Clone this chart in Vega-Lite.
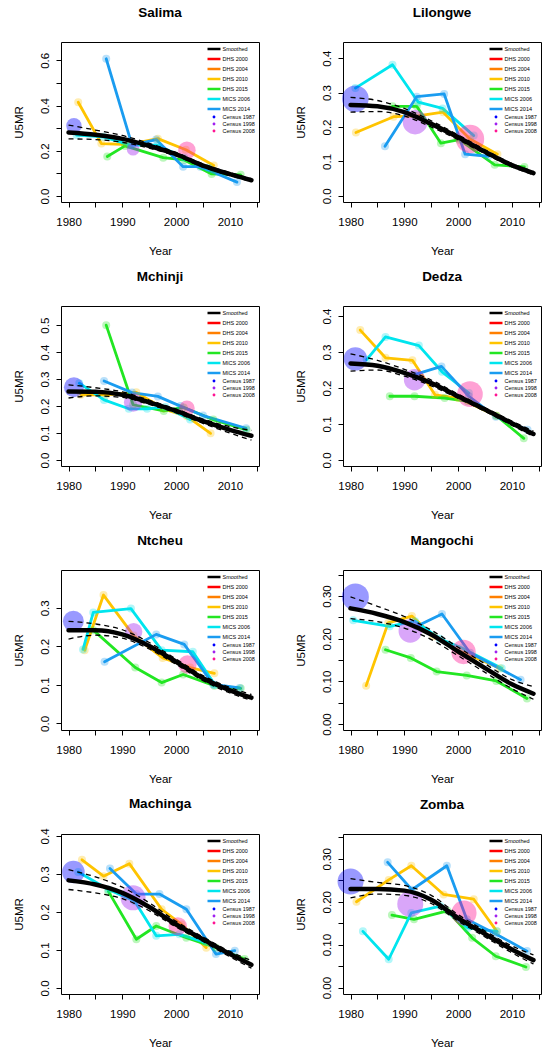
{
  "$schema": "https://vega.github.io/schema/vega-lite/v6.json",
  "background": "white",
  "padding": {"left": 12, "top": 5, "right": 5, "bottom": 5},
  "bounds": "flush",
  "columns": 2,
  "spacing": {"row": 104, "column": 84},
  "resolve": {"scale": {"color": "independent", "fill": "independent", "stroke": "independent", "size": "independent"}, "legend": {"color": "independent", "fill": "independent"}},
  "data": {"values": [
    {"district":"Salima","kind":"survey","series":"DHS 2010","year":1981.8,"u5mr":0.415},
    {"district":"Salima","kind":"survey","series":"DHS 2010","year":1986.1,"u5mr":0.232},
    {"district":"Salima","kind":"survey","series":"DHS 2010","year":1991.0,"u5mr":0.228},
    {"district":"Salima","kind":"survey","series":"DHS 2010","year":1996.6,"u5mr":0.254},
    {"district":"Salima","kind":"survey","series":"DHS 2010","year":2001.8,"u5mr":0.205},
    {"district":"Salima","kind":"survey","series":"DHS 2010","year":2007.0,"u5mr":0.135},
    {"district":"Salima","kind":"survey","series":"DHS 2015","year":1987.2,"u5mr":0.175},
    {"district":"Salima","kind":"survey","series":"DHS 2015","year":1990.5,"u5mr":0.222},
    {"district":"Salima","kind":"survey","series":"DHS 2015","year":1997.6,"u5mr":0.170},
    {"district":"Salima","kind":"survey","series":"DHS 2015","year":2001.5,"u5mr":0.160},
    {"district":"Salima","kind":"survey","series":"DHS 2015","year":2006.6,"u5mr":0.098},
    {"district":"Salima","kind":"survey","series":"DHS 2015","year":2012.0,"u5mr":0.094},
    {"district":"Salima","kind":"survey","series":"MICS 2006","year":1981.5,"u5mr":0.270},
    {"district":"Salima","kind":"survey","series":"MICS 2006","year":1986.5,"u5mr":0.262},
    {"district":"Salima","kind":"survey","series":"MICS 2006","year":1991.5,"u5mr":0.225},
    {"district":"Salima","kind":"survey","series":"MICS 2006","year":1996.5,"u5mr":0.225},
    {"district":"Salima","kind":"survey","series":"MICS 2006","year":2001.5,"u5mr":0.170},
    {"district":"Salima","kind":"survey","series":"MICS 2006","year":2006.0,"u5mr":0.125},
    {"district":"Salima","kind":"survey","series":"MICS 2014","year":1987.0,"u5mr":0.607},
    {"district":"Salima","kind":"survey","series":"MICS 2014","year":1991.8,"u5mr":0.225},
    {"district":"Salima","kind":"survey","series":"MICS 2014","year":1996.3,"u5mr":0.250},
    {"district":"Salima","kind":"survey","series":"MICS 2014","year":2001.3,"u5mr":0.130},
    {"district":"Salima","kind":"survey","series":"MICS 2014","year":2004.5,"u5mr":0.130},
    {"district":"Salima","kind":"survey","series":"MICS 2014","year":2011.3,"u5mr":0.062},
    {"district":"Salima","kind":"census","series":"Census 1987","year":1981.0,"u5mr":0.311,"weight":59},
    {"district":"Salima","kind":"census","series":"Census 1998","year":1992.0,"u5mr":0.207,"weight":40},
    {"district":"Salima","kind":"census","series":"Census 2008","year":2002.0,"u5mr":0.203,"weight":77},
    {"district":"Salima","kind":"est","series":"Smoothed","year":1980,"u5mr":0.281},
    {"district":"Salima","kind":"est","series":"Smoothed","year":1985,"u5mr":0.271},
    {"district":"Salima","kind":"est","series":"Smoothed","year":1990,"u5mr":0.253},
    {"district":"Salima","kind":"est","series":"Smoothed","year":1995,"u5mr":0.222},
    {"district":"Salima","kind":"est","series":"Smoothed","year":2000,"u5mr":0.185},
    {"district":"Salima","kind":"est","series":"Smoothed","year":2005,"u5mr":0.135},
    {"district":"Salima","kind":"est","series":"Smoothed","year":2010,"u5mr":0.097},
    {"district":"Salima","kind":"est","series":"Smoothed","year":2014,"u5mr":0.070},
    {"district":"Salima","kind":"lower","series":"Smoothed","year":1980,"u5mr":0.253},
    {"district":"Salima","kind":"lower","series":"Smoothed","year":1985,"u5mr":0.250},
    {"district":"Salima","kind":"lower","series":"Smoothed","year":1990,"u5mr":0.238},
    {"district":"Salima","kind":"lower","series":"Smoothed","year":1995,"u5mr":0.212},
    {"district":"Salima","kind":"lower","series":"Smoothed","year":2000,"u5mr":0.177},
    {"district":"Salima","kind":"lower","series":"Smoothed","year":2005,"u5mr":0.128},
    {"district":"Salima","kind":"lower","series":"Smoothed","year":2010,"u5mr":0.091},
    {"district":"Salima","kind":"lower","series":"Smoothed","year":2014,"u5mr":0.064},
    {"district":"Salima","kind":"upper","series":"Smoothed","year":1980,"u5mr":0.314},
    {"district":"Salima","kind":"upper","series":"Smoothed","year":1985,"u5mr":0.292},
    {"district":"Salima","kind":"upper","series":"Smoothed","year":1990,"u5mr":0.268},
    {"district":"Salima","kind":"upper","series":"Smoothed","year":1995,"u5mr":0.233},
    {"district":"Salima","kind":"upper","series":"Smoothed","year":2000,"u5mr":0.193},
    {"district":"Salima","kind":"upper","series":"Smoothed","year":2005,"u5mr":0.142},
    {"district":"Salima","kind":"upper","series":"Smoothed","year":2010,"u5mr":0.104},
    {"district":"Salima","kind":"upper","series":"Smoothed","year":2014,"u5mr":0.077},

    {"district":"Lilongwe","kind":"survey","series":"DHS 2010","year":1981.0,"u5mr":0.184},
    {"district":"Lilongwe","kind":"survey","series":"DHS 2010","year":1988.0,"u5mr":0.230},
    {"district":"Lilongwe","kind":"survey","series":"DHS 2010","year":1992.5,"u5mr":0.232},
    {"district":"Lilongwe","kind":"survey","series":"DHS 2010","year":1997.2,"u5mr":0.243},
    {"district":"Lilongwe","kind":"survey","series":"DHS 2010","year":2002.2,"u5mr":0.165},
    {"district":"Lilongwe","kind":"survey","series":"DHS 2010","year":2007.3,"u5mr":0.121},
    {"district":"Lilongwe","kind":"survey","series":"DHS 2015","year":1987.8,"u5mr":0.260},
    {"district":"Lilongwe","kind":"survey","series":"DHS 2015","year":1992.3,"u5mr":0.260},
    {"district":"Lilongwe","kind":"survey","series":"DHS 2015","year":1996.8,"u5mr":0.153},
    {"district":"Lilongwe","kind":"survey","series":"DHS 2015","year":2000.2,"u5mr":0.163},
    {"district":"Lilongwe","kind":"survey","series":"DHS 2015","year":2006.8,"u5mr":0.090},
    {"district":"Lilongwe","kind":"survey","series":"DHS 2015","year":2012.3,"u5mr":0.084},
    {"district":"Lilongwe","kind":"survey","series":"MICS 2006","year":1980.9,"u5mr":0.313},
    {"district":"Lilongwe","kind":"survey","series":"MICS 2006","year":1987.8,"u5mr":0.381},
    {"district":"Lilongwe","kind":"survey","series":"MICS 2006","year":1992.6,"u5mr":0.272},
    {"district":"Lilongwe","kind":"survey","series":"MICS 2006","year":1997.1,"u5mr":0.254},
    {"district":"Lilongwe","kind":"survey","series":"MICS 2006","year":2002.9,"u5mr":0.175},
    {"district":"Lilongwe","kind":"survey","series":"MICS 2014","year":1986.4,"u5mr":0.144},
    {"district":"Lilongwe","kind":"survey","series":"MICS 2014","year":1992.3,"u5mr":0.288},
    {"district":"Lilongwe","kind":"survey","series":"MICS 2014","year":1997.4,"u5mr":0.296},
    {"district":"Lilongwe","kind":"survey","series":"MICS 2014","year":2001.3,"u5mr":0.121},
    {"district":"Lilongwe","kind":"survey","series":"MICS 2014","year":2005.6,"u5mr":0.115},
    {"district":"Lilongwe","kind":"census","series":"Census 1987","year":1980.9,"u5mr":0.282,"weight":177},
    {"district":"Lilongwe","kind":"census","series":"Census 1998","year":1992.0,"u5mr":0.214,"weight":151},
    {"district":"Lilongwe","kind":"census","series":"Census 2008","year":2002.2,"u5mr":0.165,"weight":202},
    {"district":"Lilongwe","kind":"est","series":"Smoothed","year":1980,"u5mr":0.264},
    {"district":"Lilongwe","kind":"est","series":"Smoothed","year":1985,"u5mr":0.260},
    {"district":"Lilongwe","kind":"est","series":"Smoothed","year":1990,"u5mr":0.243},
    {"district":"Lilongwe","kind":"est","series":"Smoothed","year":1995,"u5mr":0.209},
    {"district":"Lilongwe","kind":"est","series":"Smoothed","year":2000,"u5mr":0.170},
    {"district":"Lilongwe","kind":"est","series":"Smoothed","year":2005,"u5mr":0.128},
    {"district":"Lilongwe","kind":"est","series":"Smoothed","year":2010,"u5mr":0.089},
    {"district":"Lilongwe","kind":"est","series":"Smoothed","year":2014,"u5mr":0.066},
    {"district":"Lilongwe","kind":"lower","series":"Smoothed","year":1980,"u5mr":0.243},
    {"district":"Lilongwe","kind":"lower","series":"Smoothed","year":1985,"u5mr":0.245},
    {"district":"Lilongwe","kind":"lower","series":"Smoothed","year":1990,"u5mr":0.232},
    {"district":"Lilongwe","kind":"lower","series":"Smoothed","year":1995,"u5mr":0.200},
    {"district":"Lilongwe","kind":"lower","series":"Smoothed","year":2000,"u5mr":0.163},
    {"district":"Lilongwe","kind":"lower","series":"Smoothed","year":2005,"u5mr":0.122},
    {"district":"Lilongwe","kind":"lower","series":"Smoothed","year":2010,"u5mr":0.084},
    {"district":"Lilongwe","kind":"lower","series":"Smoothed","year":2014,"u5mr":0.061},
    {"district":"Lilongwe","kind":"upper","series":"Smoothed","year":1980,"u5mr":0.286},
    {"district":"Lilongwe","kind":"upper","series":"Smoothed","year":1985,"u5mr":0.277},
    {"district":"Lilongwe","kind":"upper","series":"Smoothed","year":1990,"u5mr":0.254},
    {"district":"Lilongwe","kind":"upper","series":"Smoothed","year":1995,"u5mr":0.218},
    {"district":"Lilongwe","kind":"upper","series":"Smoothed","year":2000,"u5mr":0.177},
    {"district":"Lilongwe","kind":"upper","series":"Smoothed","year":2005,"u5mr":0.134},
    {"district":"Lilongwe","kind":"upper","series":"Smoothed","year":2010,"u5mr":0.094},
    {"district":"Lilongwe","kind":"upper","series":"Smoothed","year":2014,"u5mr":0.071},

    {"district":"Mchinji","kind":"survey","series":"DHS 2010","year":1982.3,"u5mr":0.242},
    {"district":"Mchinji","kind":"survey","series":"DHS 2010","year":1987.0,"u5mr":0.242},
    {"district":"Mchinji","kind":"survey","series":"DHS 2010","year":1992.6,"u5mr":0.251},
    {"district":"Mchinji","kind":"survey","series":"DHS 2010","year":1997.7,"u5mr":0.190},
    {"district":"Mchinji","kind":"survey","series":"DHS 2010","year":2002.0,"u5mr":0.162},
    {"district":"Mchinji","kind":"survey","series":"DHS 2010","year":2006.4,"u5mr":0.099},
    {"district":"Mchinji","kind":"survey","series":"DHS 2015","year":1987.0,"u5mr":0.500},
    {"district":"Mchinji","kind":"survey","series":"DHS 2015","year":1992.0,"u5mr":0.205},
    {"district":"Mchinji","kind":"survey","series":"DHS 2015","year":1997.7,"u5mr":0.182},
    {"district":"Mchinji","kind":"survey","series":"DHS 2015","year":2001.4,"u5mr":0.195},
    {"district":"Mchinji","kind":"survey","series":"DHS 2015","year":2006.9,"u5mr":0.150},
    {"district":"Mchinji","kind":"survey","series":"DHS 2015","year":2013.1,"u5mr":0.112},
    {"district":"Mchinji","kind":"survey","series":"MICS 2006","year":1982.0,"u5mr":0.285},
    {"district":"Mchinji","kind":"survey","series":"MICS 2006","year":1986.6,"u5mr":0.223},
    {"district":"Mchinji","kind":"survey","series":"MICS 2006","year":1991.2,"u5mr":0.190},
    {"district":"Mchinji","kind":"survey","series":"MICS 2006","year":1994.6,"u5mr":0.190},
    {"district":"Mchinji","kind":"survey","series":"MICS 2006","year":1998.0,"u5mr":0.197},
    {"district":"Mchinji","kind":"survey","series":"MICS 2006","year":2002.6,"u5mr":0.150},
    {"district":"Mchinji","kind":"survey","series":"MICS 2014","year":1986.6,"u5mr":0.293},
    {"district":"Mchinji","kind":"survey","series":"MICS 2014","year":1991.8,"u5mr":0.250},
    {"district":"Mchinji","kind":"survey","series":"MICS 2014","year":1996.6,"u5mr":0.236},
    {"district":"Mchinji","kind":"survey","series":"MICS 2014","year":2000.8,"u5mr":0.200},
    {"district":"Mchinji","kind":"survey","series":"MICS 2014","year":2005.0,"u5mr":0.165},
    {"district":"Mchinji","kind":"survey","series":"MICS 2014","year":2013.0,"u5mr":0.118},
    {"district":"Mchinji","kind":"census","series":"Census 1987","year":1981.0,"u5mr":0.270,"weight":100},
    {"district":"Mchinji","kind":"census","series":"Census 1998","year":1992.0,"u5mr":0.213,"weight":85},
    {"district":"Mchinji","kind":"census","series":"Census 2008","year":2002.0,"u5mr":0.192,"weight":61},
    {"district":"Mchinji","kind":"est","series":"Smoothed","year":1980,"u5mr":0.254},
    {"district":"Mchinji","kind":"est","series":"Smoothed","year":1985,"u5mr":0.253},
    {"district":"Mchinji","kind":"est","series":"Smoothed","year":1990,"u5mr":0.242},
    {"district":"Mchinji","kind":"est","series":"Smoothed","year":1995,"u5mr":0.214},
    {"district":"Mchinji","kind":"est","series":"Smoothed","year":2000,"u5mr":0.182},
    {"district":"Mchinji","kind":"est","series":"Smoothed","year":2005,"u5mr":0.144},
    {"district":"Mchinji","kind":"est","series":"Smoothed","year":2010,"u5mr":0.112},
    {"district":"Mchinji","kind":"est","series":"Smoothed","year":2014,"u5mr":0.090},
    {"district":"Mchinji","kind":"lower","series":"Smoothed","year":1980,"u5mr":0.230},
    {"district":"Mchinji","kind":"lower","series":"Smoothed","year":1985,"u5mr":0.238},
    {"district":"Mchinji","kind":"lower","series":"Smoothed","year":1990,"u5mr":0.232},
    {"district":"Mchinji","kind":"lower","series":"Smoothed","year":1995,"u5mr":0.206},
    {"district":"Mchinji","kind":"lower","series":"Smoothed","year":2000,"u5mr":0.175},
    {"district":"Mchinji","kind":"lower","series":"Smoothed","year":2005,"u5mr":0.136},
    {"district":"Mchinji","kind":"lower","series":"Smoothed","year":2010,"u5mr":0.100},
    {"district":"Mchinji","kind":"lower","series":"Smoothed","year":2014,"u5mr":0.074},
    {"district":"Mchinji","kind":"upper","series":"Smoothed","year":1980,"u5mr":0.279},
    {"district":"Mchinji","kind":"upper","series":"Smoothed","year":1985,"u5mr":0.268},
    {"district":"Mchinji","kind":"upper","series":"Smoothed","year":1990,"u5mr":0.253},
    {"district":"Mchinji","kind":"upper","series":"Smoothed","year":1995,"u5mr":0.222},
    {"district":"Mchinji","kind":"upper","series":"Smoothed","year":2000,"u5mr":0.189},
    {"district":"Mchinji","kind":"upper","series":"Smoothed","year":2005,"u5mr":0.152},
    {"district":"Mchinji","kind":"upper","series":"Smoothed","year":2010,"u5mr":0.124},
    {"district":"Mchinji","kind":"upper","series":"Smoothed","year":2014,"u5mr":0.110},

    {"district":"Dedza","kind":"survey","series":"DHS 2010","year":1981.8,"u5mr":0.361},
    {"district":"Dedza","kind":"survey","series":"DHS 2010","year":1986.5,"u5mr":0.284},
    {"district":"Dedza","kind":"survey","series":"DHS 2010","year":1991.5,"u5mr":0.277},
    {"district":"Dedza","kind":"survey","series":"DHS 2010","year":1995.7,"u5mr":0.181},
    {"district":"Dedza","kind":"survey","series":"DHS 2010","year":2000.0,"u5mr":0.172},
    {"district":"Dedza","kind":"survey","series":"DHS 2010","year":2007.1,"u5mr":0.123},
    {"district":"Dedza","kind":"survey","series":"DHS 2015","year":1987.3,"u5mr":0.177},
    {"district":"Dedza","kind":"survey","series":"DHS 2015","year":1991.9,"u5mr":0.177},
    {"district":"Dedza","kind":"survey","series":"DHS 2015","year":1997.5,"u5mr":0.172},
    {"district":"Dedza","kind":"survey","series":"DHS 2015","year":2001.8,"u5mr":0.163},
    {"district":"Dedza","kind":"survey","series":"DHS 2015","year":2007.1,"u5mr":0.123},
    {"district":"Dedza","kind":"survey","series":"DHS 2015","year":2012.2,"u5mr":0.060},
    {"district":"Dedza","kind":"survey","series":"MICS 2006","year":1983.0,"u5mr":0.279},
    {"district":"Dedza","kind":"survey","series":"MICS 2006","year":1986.5,"u5mr":0.342},
    {"district":"Dedza","kind":"survey","series":"MICS 2006","year":1992.7,"u5mr":0.318},
    {"district":"Dedza","kind":"survey","series":"MICS 2006","year":1997.0,"u5mr":0.245},
    {"district":"Dedza","kind":"survey","series":"MICS 2006","year":2002.0,"u5mr":0.186},
    {"district":"Dedza","kind":"survey","series":"MICS 2014","year":1991.9,"u5mr":0.237},
    {"district":"Dedza","kind":"survey","series":"MICS 2014","year":1996.9,"u5mr":0.260},
    {"district":"Dedza","kind":"survey","series":"MICS 2014","year":2002.0,"u5mr":0.177},
    {"district":"Dedza","kind":"survey","series":"MICS 2014","year":2007.0,"u5mr":0.120},
    {"district":"Dedza","kind":"survey","series":"MICS 2014","year":2012.9,"u5mr":0.084},
    {"district":"Dedza","kind":"census","series":"Census 1987","year":1980.9,"u5mr":0.281,"weight":137},
    {"district":"Dedza","kind":"census","series":"Census 1998","year":1991.9,"u5mr":0.223,"weight":114},
    {"district":"Dedza","kind":"census","series":"Census 2008","year":2002.2,"u5mr":0.183,"weight":164},
    {"district":"Dedza","kind":"est","series":"Smoothed","year":1980,"u5mr":0.268},
    {"district":"Dedza","kind":"est","series":"Smoothed","year":1985,"u5mr":0.262},
    {"district":"Dedza","kind":"est","series":"Smoothed","year":1990,"u5mr":0.242},
    {"district":"Dedza","kind":"est","series":"Smoothed","year":1995,"u5mr":0.214},
    {"district":"Dedza","kind":"est","series":"Smoothed","year":2000,"u5mr":0.177},
    {"district":"Dedza","kind":"est","series":"Smoothed","year":2005,"u5mr":0.140},
    {"district":"Dedza","kind":"est","series":"Smoothed","year":2010,"u5mr":0.102},
    {"district":"Dedza","kind":"est","series":"Smoothed","year":2014,"u5mr":0.072},
    {"district":"Dedza","kind":"lower","series":"Smoothed","year":1980,"u5mr":0.247},
    {"district":"Dedza","kind":"lower","series":"Smoothed","year":1985,"u5mr":0.250},
    {"district":"Dedza","kind":"lower","series":"Smoothed","year":1990,"u5mr":0.233},
    {"district":"Dedza","kind":"lower","series":"Smoothed","year":1995,"u5mr":0.206},
    {"district":"Dedza","kind":"lower","series":"Smoothed","year":2000,"u5mr":0.171},
    {"district":"Dedza","kind":"lower","series":"Smoothed","year":2005,"u5mr":0.135},
    {"district":"Dedza","kind":"lower","series":"Smoothed","year":2010,"u5mr":0.096},
    {"district":"Dedza","kind":"lower","series":"Smoothed","year":2014,"u5mr":0.065},
    {"district":"Dedza","kind":"upper","series":"Smoothed","year":1980,"u5mr":0.295},
    {"district":"Dedza","kind":"upper","series":"Smoothed","year":1985,"u5mr":0.277},
    {"district":"Dedza","kind":"upper","series":"Smoothed","year":1990,"u5mr":0.252},
    {"district":"Dedza","kind":"upper","series":"Smoothed","year":1995,"u5mr":0.222},
    {"district":"Dedza","kind":"upper","series":"Smoothed","year":2000,"u5mr":0.183},
    {"district":"Dedza","kind":"upper","series":"Smoothed","year":2005,"u5mr":0.145},
    {"district":"Dedza","kind":"upper","series":"Smoothed","year":2010,"u5mr":0.108},
    {"district":"Dedza","kind":"upper","series":"Smoothed","year":2014,"u5mr":0.080},

    {"district":"Ntcheu","kind":"survey","series":"DHS 2010","year":1983.0,"u5mr":0.190},
    {"district":"Ntcheu","kind":"survey","series":"DHS 2010","year":1986.5,"u5mr":0.333},
    {"district":"Ntcheu","kind":"survey","series":"DHS 2010","year":1992.1,"u5mr":0.228},
    {"district":"Ntcheu","kind":"survey","series":"DHS 2010","year":1997.5,"u5mr":0.170},
    {"district":"Ntcheu","kind":"survey","series":"DHS 2010","year":2002.6,"u5mr":0.145},
    {"district":"Ntcheu","kind":"survey","series":"DHS 2010","year":2007.1,"u5mr":0.130},
    {"district":"Ntcheu","kind":"survey","series":"DHS 2015","year":1984.6,"u5mr":0.242},
    {"district":"Ntcheu","kind":"survey","series":"DHS 2015","year":1992.4,"u5mr":0.145},
    {"district":"Ntcheu","kind":"survey","series":"DHS 2015","year":1997.3,"u5mr":0.106},
    {"district":"Ntcheu","kind":"survey","series":"DHS 2015","year":2001.3,"u5mr":0.127},
    {"district":"Ntcheu","kind":"survey","series":"DHS 2015","year":2007.1,"u5mr":0.098},
    {"district":"Ntcheu","kind":"survey","series":"DHS 2015","year":2012.0,"u5mr":0.091},
    {"district":"Ntcheu","kind":"survey","series":"MICS 2006","year":1982.7,"u5mr":0.192},
    {"district":"Ntcheu","kind":"survey","series":"MICS 2006","year":1984.6,"u5mr":0.288},
    {"district":"Ntcheu","kind":"survey","series":"MICS 2006","year":1991.6,"u5mr":0.298},
    {"district":"Ntcheu","kind":"survey","series":"MICS 2006","year":1997.3,"u5mr":0.190},
    {"district":"Ntcheu","kind":"survey","series":"MICS 2006","year":2003.1,"u5mr":0.186},
    {"district":"Ntcheu","kind":"survey","series":"MICS 2006","year":2007.2,"u5mr":0.100},
    {"district":"Ntcheu","kind":"survey","series":"MICS 2014","year":1986.7,"u5mr":0.160},
    {"district":"Ntcheu","kind":"survey","series":"MICS 2014","year":1996.3,"u5mr":0.231},
    {"district":"Ntcheu","kind":"survey","series":"MICS 2014","year":2001.5,"u5mr":0.205},
    {"district":"Ntcheu","kind":"survey","series":"MICS 2014","year":2006.9,"u5mr":0.101},
    {"district":"Ntcheu","kind":"survey","series":"MICS 2014","year":2011.8,"u5mr":0.092},
    {"district":"Ntcheu","kind":"census","series":"Census 1987","year":1980.9,"u5mr":0.265,"weight":110},
    {"district":"Ntcheu","kind":"census","series":"Census 1998","year":1992.1,"u5mr":0.238,"weight":76},
    {"district":"Ntcheu","kind":"census","series":"Census 2008","year":2002.1,"u5mr":0.153,"weight":85},
    {"district":"Ntcheu","kind":"est","series":"Smoothed","year":1980,"u5mr":0.242},
    {"district":"Ntcheu","kind":"est","series":"Smoothed","year":1985,"u5mr":0.242},
    {"district":"Ntcheu","kind":"est","series":"Smoothed","year":1990,"u5mr":0.231},
    {"district":"Ntcheu","kind":"est","series":"Smoothed","year":1995,"u5mr":0.201},
    {"district":"Ntcheu","kind":"est","series":"Smoothed","year":2000,"u5mr":0.160},
    {"district":"Ntcheu","kind":"est","series":"Smoothed","year":2005,"u5mr":0.117},
    {"district":"Ntcheu","kind":"est","series":"Smoothed","year":2010,"u5mr":0.086},
    {"district":"Ntcheu","kind":"est","series":"Smoothed","year":2014,"u5mr":0.067},
    {"district":"Ntcheu","kind":"lower","series":"Smoothed","year":1980,"u5mr":0.219},
    {"district":"Ntcheu","kind":"lower","series":"Smoothed","year":1985,"u5mr":0.229},
    {"district":"Ntcheu","kind":"lower","series":"Smoothed","year":1990,"u5mr":0.221},
    {"district":"Ntcheu","kind":"lower","series":"Smoothed","year":1995,"u5mr":0.193},
    {"district":"Ntcheu","kind":"lower","series":"Smoothed","year":2000,"u5mr":0.153},
    {"district":"Ntcheu","kind":"lower","series":"Smoothed","year":2005,"u5mr":0.111},
    {"district":"Ntcheu","kind":"lower","series":"Smoothed","year":2010,"u5mr":0.079},
    {"district":"Ntcheu","kind":"lower","series":"Smoothed","year":2014,"u5mr":0.060},
    {"district":"Ntcheu","kind":"upper","series":"Smoothed","year":1980,"u5mr":0.265},
    {"district":"Ntcheu","kind":"upper","series":"Smoothed","year":1985,"u5mr":0.258},
    {"district":"Ntcheu","kind":"upper","series":"Smoothed","year":1990,"u5mr":0.243},
    {"district":"Ntcheu","kind":"upper","series":"Smoothed","year":1995,"u5mr":0.210},
    {"district":"Ntcheu","kind":"upper","series":"Smoothed","year":2000,"u5mr":0.167},
    {"district":"Ntcheu","kind":"upper","series":"Smoothed","year":2005,"u5mr":0.124},
    {"district":"Ntcheu","kind":"upper","series":"Smoothed","year":2010,"u5mr":0.093},
    {"district":"Ntcheu","kind":"upper","series":"Smoothed","year":2014,"u5mr":0.075},

    {"district":"Mangochi","kind":"survey","series":"DHS 2010","year":1982.9,"u5mr":0.090},
    {"district":"Mangochi","kind":"survey","series":"DHS 2010","year":1987.0,"u5mr":0.237},
    {"district":"Mangochi","kind":"survey","series":"DHS 2010","year":1991.4,"u5mr":0.253},
    {"district":"Mangochi","kind":"survey","series":"DHS 2010","year":1995.4,"u5mr":0.206},
    {"district":"Mangochi","kind":"survey","series":"DHS 2010","year":2000.1,"u5mr":0.172},
    {"district":"Mangochi","kind":"survey","series":"DHS 2010","year":2007.8,"u5mr":0.131},
    {"district":"Mangochi","kind":"survey","series":"DHS 2015","year":1986.5,"u5mr":0.174},
    {"district":"Mangochi","kind":"survey","series":"DHS 2015","year":1991.2,"u5mr":0.155},
    {"district":"Mangochi","kind":"survey","series":"DHS 2015","year":1996.0,"u5mr":0.123},
    {"district":"Mangochi","kind":"survey","series":"DHS 2015","year":2001.6,"u5mr":0.114},
    {"district":"Mangochi","kind":"survey","series":"DHS 2015","year":2007.1,"u5mr":0.101},
    {"district":"Mangochi","kind":"survey","series":"DHS 2015","year":2012.8,"u5mr":0.060},
    {"district":"Mangochi","kind":"survey","series":"MICS 2006","year":1980.5,"u5mr":0.243},
    {"district":"Mangochi","kind":"survey","series":"MICS 2006","year":1987.3,"u5mr":0.229},
    {"district":"Mangochi","kind":"survey","series":"MICS 2006","year":1992.0,"u5mr":0.241},
    {"district":"Mangochi","kind":"survey","series":"MICS 2006","year":1996.6,"u5mr":0.200},
    {"district":"Mangochi","kind":"survey","series":"MICS 2006","year":2000.7,"u5mr":0.178},
    {"district":"Mangochi","kind":"survey","series":"MICS 2006","year":2008.1,"u5mr":0.131},
    {"district":"Mangochi","kind":"survey","series":"MICS 2014","year":1992.3,"u5mr":0.229},
    {"district":"Mangochi","kind":"survey","series":"MICS 2014","year":1997.0,"u5mr":0.258},
    {"district":"Mangochi","kind":"survey","series":"MICS 2014","year":2002.2,"u5mr":0.167},
    {"district":"Mangochi","kind":"survey","series":"MICS 2014","year":2011.6,"u5mr":0.104},
    {"district":"Mangochi","kind":"census","series":"Census 1987","year":1980.9,"u5mr":0.298,"weight":182},
    {"district":"Mangochi","kind":"census","series":"Census 1998","year":1991.1,"u5mr":0.218,"weight":137},
    {"district":"Mangochi","kind":"census","series":"Census 2008","year":2001.0,"u5mr":0.169,"weight":149},
    {"district":"Mangochi","kind":"est","series":"Smoothed","year":1980,"u5mr":0.271},
    {"district":"Mangochi","kind":"est","series":"Smoothed","year":1985,"u5mr":0.258},
    {"district":"Mangochi","kind":"est","series":"Smoothed","year":1990,"u5mr":0.239},
    {"district":"Mangochi","kind":"est","series":"Smoothed","year":1995,"u5mr":0.210},
    {"district":"Mangochi","kind":"est","series":"Smoothed","year":2000,"u5mr":0.170},
    {"district":"Mangochi","kind":"est","series":"Smoothed","year":2005,"u5mr":0.131},
    {"district":"Mangochi","kind":"est","series":"Smoothed","year":2010,"u5mr":0.093},
    {"district":"Mangochi","kind":"est","series":"Smoothed","year":2014,"u5mr":0.071},
    {"district":"Mangochi","kind":"lower","series":"Smoothed","year":1980,"u5mr":0.247},
    {"district":"Mangochi","kind":"lower","series":"Smoothed","year":1985,"u5mr":0.240},
    {"district":"Mangochi","kind":"lower","series":"Smoothed","year":1990,"u5mr":0.225},
    {"district":"Mangochi","kind":"lower","series":"Smoothed","year":1995,"u5mr":0.198},
    {"district":"Mangochi","kind":"lower","series":"Smoothed","year":2000,"u5mr":0.160},
    {"district":"Mangochi","kind":"lower","series":"Smoothed","year":2005,"u5mr":0.121},
    {"district":"Mangochi","kind":"lower","series":"Smoothed","year":2010,"u5mr":0.083},
    {"district":"Mangochi","kind":"lower","series":"Smoothed","year":2014,"u5mr":0.058},
    {"district":"Mangochi","kind":"upper","series":"Smoothed","year":1980,"u5mr":0.298},
    {"district":"Mangochi","kind":"upper","series":"Smoothed","year":1985,"u5mr":0.276},
    {"district":"Mangochi","kind":"upper","series":"Smoothed","year":1990,"u5mr":0.252},
    {"district":"Mangochi","kind":"upper","series":"Smoothed","year":1995,"u5mr":0.220},
    {"district":"Mangochi","kind":"upper","series":"Smoothed","year":2000,"u5mr":0.180},
    {"district":"Mangochi","kind":"upper","series":"Smoothed","year":2005,"u5mr":0.141},
    {"district":"Mangochi","kind":"upper","series":"Smoothed","year":2010,"u5mr":0.104},
    {"district":"Mangochi","kind":"upper","series":"Smoothed","year":2014,"u5mr":0.088},

    {"district":"Machinga","kind":"survey","series":"DHS 2010","year":1982.5,"u5mr":0.337},
    {"district":"Machinga","kind":"survey","series":"DHS 2010","year":1986.5,"u5mr":0.294},
    {"district":"Machinga","kind":"survey","series":"DHS 2010","year":1991.3,"u5mr":0.327},
    {"district":"Machinga","kind":"survey","series":"DHS 2010","year":1997.3,"u5mr":0.207},
    {"district":"Machinga","kind":"survey","series":"DHS 2010","year":2001.0,"u5mr":0.167},
    {"district":"Machinga","kind":"survey","series":"DHS 2010","year":2005.6,"u5mr":0.106},
    {"district":"Machinga","kind":"survey","series":"DHS 2015","year":1987.4,"u5mr":0.254},
    {"district":"Machinga","kind":"survey","series":"DHS 2015","year":1992.6,"u5mr":0.128},
    {"district":"Machinga","kind":"survey","series":"DHS 2015","year":1996.3,"u5mr":0.163},
    {"district":"Machinga","kind":"survey","series":"DHS 2015","year":2001.9,"u5mr":0.132},
    {"district":"Machinga","kind":"survey","series":"DHS 2015","year":2007.4,"u5mr":0.106},
    {"district":"Machinga","kind":"survey","series":"DHS 2015","year":2012.7,"u5mr":0.076},
    {"district":"Machinga","kind":"survey","series":"MICS 2006","year":1981.8,"u5mr":0.305},
    {"district":"Machinga","kind":"survey","series":"MICS 2006","year":1987.4,"u5mr":0.259},
    {"district":"Machinga","kind":"survey","series":"MICS 2006","year":1992.3,"u5mr":0.228},
    {"district":"Machinga","kind":"survey","series":"MICS 2006","year":1996.3,"u5mr":0.137},
    {"district":"Machinga","kind":"survey","series":"MICS 2006","year":2000.6,"u5mr":0.141},
    {"district":"Machinga","kind":"survey","series":"MICS 2006","year":2005.5,"u5mr":0.120},
    {"district":"Machinga","kind":"survey","series":"MICS 2014","year":1987.7,"u5mr":0.314},
    {"district":"Machinga","kind":"survey","series":"MICS 2014","year":1992.6,"u5mr":0.247},
    {"district":"Machinga","kind":"survey","series":"MICS 2014","year":1996.9,"u5mr":0.247},
    {"district":"Machinga","kind":"survey","series":"MICS 2014","year":2001.9,"u5mr":0.207},
    {"district":"Machinga","kind":"survey","series":"MICS 2014","year":2007.4,"u5mr":0.089},
    {"district":"Machinga","kind":"survey","series":"MICS 2014","year":2010.9,"u5mr":0.098},
    {"district":"Machinga","kind":"census","series":"Census 1987","year":1980.9,"u5mr":0.305,"weight":128},
    {"district":"Machinga","kind":"census","series":"Census 1998","year":1992.0,"u5mr":0.237,"weight":156},
    {"district":"Machinga","kind":"census","series":"Census 2008","year":2000.3,"u5mr":0.162,"weight":85},
    {"district":"Machinga","kind":"est","series":"Smoothed","year":1980,"u5mr":0.283},
    {"district":"Machinga","kind":"est","series":"Smoothed","year":1985,"u5mr":0.272},
    {"district":"Machinga","kind":"est","series":"Smoothed","year":1990,"u5mr":0.250},
    {"district":"Machinga","kind":"est","series":"Smoothed","year":1995,"u5mr":0.213},
    {"district":"Machinga","kind":"est","series":"Smoothed","year":2000,"u5mr":0.167},
    {"district":"Machinga","kind":"est","series":"Smoothed","year":2005,"u5mr":0.128},
    {"district":"Machinga","kind":"est","series":"Smoothed","year":2010,"u5mr":0.089},
    {"district":"Machinga","kind":"est","series":"Smoothed","year":2014,"u5mr":0.061},
    {"district":"Machinga","kind":"lower","series":"Smoothed","year":1980,"u5mr":0.259},
    {"district":"Machinga","kind":"lower","series":"Smoothed","year":1985,"u5mr":0.250},
    {"district":"Machinga","kind":"lower","series":"Smoothed","year":1990,"u5mr":0.235},
    {"district":"Machinga","kind":"lower","series":"Smoothed","year":1995,"u5mr":0.203},
    {"district":"Machinga","kind":"lower","series":"Smoothed","year":2000,"u5mr":0.160},
    {"district":"Machinga","kind":"lower","series":"Smoothed","year":2005,"u5mr":0.122},
    {"district":"Machinga","kind":"lower","series":"Smoothed","year":2010,"u5mr":0.082},
    {"district":"Machinga","kind":"lower","series":"Smoothed","year":2014,"u5mr":0.052},
    {"district":"Machinga","kind":"upper","series":"Smoothed","year":1980,"u5mr":0.311},
    {"district":"Machinga","kind":"upper","series":"Smoothed","year":1985,"u5mr":0.292},
    {"district":"Machinga","kind":"upper","series":"Smoothed","year":1990,"u5mr":0.265},
    {"district":"Machinga","kind":"upper","series":"Smoothed","year":1995,"u5mr":0.224},
    {"district":"Machinga","kind":"upper","series":"Smoothed","year":2000,"u5mr":0.175},
    {"district":"Machinga","kind":"upper","series":"Smoothed","year":2005,"u5mr":0.134},
    {"district":"Machinga","kind":"upper","series":"Smoothed","year":2010,"u5mr":0.096},
    {"district":"Machinga","kind":"upper","series":"Smoothed","year":2014,"u5mr":0.072},

    {"district":"Zomba","kind":"survey","series":"DHS 2010","year":1981.1,"u5mr":0.200},
    {"district":"Zomba","kind":"survey","series":"DHS 2010","year":1987.1,"u5mr":0.251},
    {"district":"Zomba","kind":"survey","series":"DHS 2010","year":1991.3,"u5mr":0.284},
    {"district":"Zomba","kind":"survey","series":"DHS 2010","year":1997.3,"u5mr":0.217},
    {"district":"Zomba","kind":"survey","series":"DHS 2010","year":2002.9,"u5mr":0.206},
    {"district":"Zomba","kind":"survey","series":"DHS 2010","year":2007.2,"u5mr":0.131},
    {"district":"Zomba","kind":"survey","series":"DHS 2015","year":1987.7,"u5mr":0.169},
    {"district":"Zomba","kind":"survey","series":"DHS 2015","year":1991.8,"u5mr":0.159},
    {"district":"Zomba","kind":"survey","series":"DHS 2015","year":1998.0,"u5mr":0.179},
    {"district":"Zomba","kind":"survey","series":"DHS 2015","year":2002.6,"u5mr":0.116},
    {"district":"Zomba","kind":"survey","series":"DHS 2015","year":2007.0,"u5mr":0.073},
    {"district":"Zomba","kind":"survey","series":"DHS 2015","year":2012.6,"u5mr":0.048},
    {"district":"Zomba","kind":"survey","series":"MICS 2006","year":1982.3,"u5mr":0.131},
    {"district":"Zomba","kind":"survey","series":"MICS 2006","year":1987.1,"u5mr":0.066},
    {"district":"Zomba","kind":"survey","series":"MICS 2006","year":1991.3,"u5mr":0.174},
    {"district":"Zomba","kind":"survey","series":"MICS 2006","year":1996.7,"u5mr":0.190},
    {"district":"Zomba","kind":"survey","series":"MICS 2006","year":2001.8,"u5mr":0.139},
    {"district":"Zomba","kind":"survey","series":"MICS 2006","year":2007.2,"u5mr":0.131},
    {"district":"Zomba","kind":"survey","series":"MICS 2014","year":1986.9,"u5mr":0.292},
    {"district":"Zomba","kind":"survey","series":"MICS 2014","year":1991.4,"u5mr":0.228},
    {"district":"Zomba","kind":"survey","series":"MICS 2014","year":1997.9,"u5mr":0.284},
    {"district":"Zomba","kind":"survey","series":"MICS 2014","year":2001.6,"u5mr":0.159},
    {"district":"Zomba","kind":"survey","series":"MICS 2014","year":2007.0,"u5mr":0.125},
    {"district":"Zomba","kind":"survey","series":"MICS 2014","year":2012.8,"u5mr":0.085},
    {"district":"Zomba","kind":"census","series":"Census 1987","year":1980.0,"u5mr":0.247,"weight":169},
    {"district":"Zomba","kind":"census","series":"Census 1998","year":1991.1,"u5mr":0.195,"weight":169},
    {"district":"Zomba","kind":"census","series":"Census 2008","year":2001.1,"u5mr":0.174,"weight":156},
    {"district":"Zomba","kind":"est","series":"Smoothed","year":1980,"u5mr":0.230},
    {"district":"Zomba","kind":"est","series":"Smoothed","year":1985,"u5mr":0.230},
    {"district":"Zomba","kind":"est","series":"Smoothed","year":1990,"u5mr":0.226},
    {"district":"Zomba","kind":"est","series":"Smoothed","year":1995,"u5mr":0.205},
    {"district":"Zomba","kind":"est","series":"Smoothed","year":2000,"u5mr":0.162},
    {"district":"Zomba","kind":"est","series":"Smoothed","year":2005,"u5mr":0.125},
    {"district":"Zomba","kind":"est","series":"Smoothed","year":2010,"u5mr":0.089},
    {"district":"Zomba","kind":"est","series":"Smoothed","year":2014,"u5mr":0.064},
    {"district":"Zomba","kind":"lower","series":"Smoothed","year":1980,"u5mr":0.209},
    {"district":"Zomba","kind":"lower","series":"Smoothed","year":1985,"u5mr":0.218},
    {"district":"Zomba","kind":"lower","series":"Smoothed","year":1990,"u5mr":0.215},
    {"district":"Zomba","kind":"lower","series":"Smoothed","year":1995,"u5mr":0.196},
    {"district":"Zomba","kind":"lower","series":"Smoothed","year":2000,"u5mr":0.155},
    {"district":"Zomba","kind":"lower","series":"Smoothed","year":2005,"u5mr":0.118},
    {"district":"Zomba","kind":"lower","series":"Smoothed","year":2010,"u5mr":0.081},
    {"district":"Zomba","kind":"lower","series":"Smoothed","year":2014,"u5mr":0.055},
    {"district":"Zomba","kind":"upper","series":"Smoothed","year":1980,"u5mr":0.254},
    {"district":"Zomba","kind":"upper","series":"Smoothed","year":1985,"u5mr":0.245},
    {"district":"Zomba","kind":"upper","series":"Smoothed","year":1990,"u5mr":0.238},
    {"district":"Zomba","kind":"upper","series":"Smoothed","year":1995,"u5mr":0.215},
    {"district":"Zomba","kind":"upper","series":"Smoothed","year":2000,"u5mr":0.170},
    {"district":"Zomba","kind":"upper","series":"Smoothed","year":2005,"u5mr":0.132},
    {"district":"Zomba","kind":"upper","series":"Smoothed","year":2010,"u5mr":0.097},
    {"district":"Zomba","kind":"upper","series":"Smoothed","year":2014,"u5mr":0.076}
  ]},
  "concat": [
    {
      "title": {"text": "Salima"}, "width": 198, "height": 160,
      "transform": [{"filter": "datum.district === 'Salima'"}],
      "encoding": {
        "x": {"field": "year", "type": "quantitative", "title": "Year", "scale": {"domain": [1978.6, 2015.4], "nice": false, "zero": false}, "axis": {"values": [1980,1985,1990,1995,2000,2005,2010,2015], "format": "d", "labelExpr": "datum.value % 10 === 0 ? datum.label : ''"}},
        "y": {"field": "u5mr", "type": "quantitative", "title": "U5MR", "scale": {"domain": [-0.026, 0.681], "nice": false, "zero": false}, "axis": {"values": [0,0.1,0.2,0.3,0.4,0.5,0.6], "format": ".1f", "labelExpr": "round(datum.value*10) % 2 === 0 ? datum.label : ''"}}
      },
      "layer": [
        {"transform": [{"filter": "datum.kind === 'survey'"}], "mark": {"type": "line", "strokeWidth": 2.8, "strokeCap": "round", "strokeJoin": "round"},
         "encoding": {"color": {"field": "series", "type": "nominal", "scale": {"domain": ["Smoothed","DHS 2000","DHS 2004","DHS 2010","DHS 2015","MICS 2006","MICS 2014"], "range": ["#000000","#FF0000","#FF7F00","#FFC400","#22E622","#00E5EE","#1A9CF0"]}, "legend": {"title": null, "symbolType": "M-4.33,0H4.33", "symbolSize": 9, "symbolStrokeWidth": 2.5, "labelOffset": 5.5}}}},
        {"transform": [{"filter": "datum.kind === 'survey'"}], "mark": {"type": "point", "filled": false, "size": 16, "strokeWidth": 4, "opacity": 0.3},
         "encoding": {"stroke": {"field": "series", "type": "nominal", "scale": {"domain": ["Smoothed","DHS 2000","DHS 2004","DHS 2010","DHS 2015","MICS 2006","MICS 2014"], "range": ["#000000","#FF0000","#FF7F00","#FFC400","#22E622","#00E5EE","#1A9CF0"]}, "legend": null}}},
        {"transform": [{"filter": "datum.kind === 'census'"}], "mark": {"type": "circle", "opacity": 0.4},
         "encoding": {"fill": {"field": "series", "type": "nominal", "scale": {"domain": ["Census 1987","Census 1998","Census 2008"], "range": ["#0000FF","#A020F0","#FF1493"]}, "legend": {"title": null, "symbolType": "M-0.467,0A0.467,0.467 0 1,1 0.467,0A0.467,0.467 0 1,1 -0.467,0Z", "symbolSize": 36, "symbolStrokeWidth": 0, "labelOffset": 5.5}},
                      "size": {"field": "weight", "type": "quantitative", "scale": {"domain": [0, 200], "range": [0, 800]}, "legend": null}}},
        {"transform": [{"filter": "datum.kind === 'lower' || datum.kind === 'upper'"}], "mark": {"type": "line", "color": "black", "strokeWidth": 1.3, "strokeDash": [5, 4], "interpolate": "monotone"}, "encoding": {"detail": {"field": "kind"}}},
        {"transform": [{"filter": "datum.kind === 'est'"}], "mark": {"type": "line", "color": "black", "strokeWidth": 4.5, "strokeCap": "round", "interpolate": "monotone"}, "encoding": {}}
      ]
    },
    {
      "title": {"text": "Lilongwe"}, "width": 198, "height": 160,
      "transform": [{"filter": "datum.district === 'Lilongwe'"}],
      "encoding": {
        "x": {"field": "year", "type": "quantitative", "title": "Year", "scale": {"domain": [1978.6, 2015.4], "nice": false, "zero": false}, "axis": {"values": [1980,1985,1990,1995,2000,2005,2010,2015], "format": "d", "labelExpr": "datum.value % 10 === 0 ? datum.label : ''"}},
        "y": {"field": "u5mr", "type": "quantitative", "title": "U5MR", "scale": {"domain": [-0.018, 0.447], "nice": false, "zero": false}, "axis": {"values": [0,0.1,0.2,0.3,0.4], "format": ".1f"}}
      },
      "layer": [
        {"transform": [{"filter": "datum.kind === 'survey'"}], "mark": {"type": "line", "strokeWidth": 2.8, "strokeCap": "round", "strokeJoin": "round"},
         "encoding": {"color": {"field": "series", "type": "nominal", "scale": {"domain": ["Smoothed","DHS 2000","DHS 2004","DHS 2010","DHS 2015","MICS 2006","MICS 2014"], "range": ["#000000","#FF0000","#FF7F00","#FFC400","#22E622","#00E5EE","#1A9CF0"]}, "legend": {"title": null, "symbolType": "M-4.33,0H4.33", "symbolSize": 9, "symbolStrokeWidth": 2.5, "labelOffset": 5.5}}}},
        {"transform": [{"filter": "datum.kind === 'survey'"}], "mark": {"type": "point", "filled": false, "size": 16, "strokeWidth": 4, "opacity": 0.3},
         "encoding": {"stroke": {"field": "series", "type": "nominal", "scale": {"domain": ["Smoothed","DHS 2000","DHS 2004","DHS 2010","DHS 2015","MICS 2006","MICS 2014"], "range": ["#000000","#FF0000","#FF7F00","#FFC400","#22E622","#00E5EE","#1A9CF0"]}, "legend": null}}},
        {"transform": [{"filter": "datum.kind === 'census'"}], "mark": {"type": "circle", "opacity": 0.4},
         "encoding": {"fill": {"field": "series", "type": "nominal", "scale": {"domain": ["Census 1987","Census 1998","Census 2008"], "range": ["#0000FF","#A020F0","#FF1493"]}, "legend": {"title": null, "symbolType": "M-0.467,0A0.467,0.467 0 1,1 0.467,0A0.467,0.467 0 1,1 -0.467,0Z", "symbolSize": 36, "symbolStrokeWidth": 0, "labelOffset": 5.5}},
                      "size": {"field": "weight", "type": "quantitative", "scale": {"domain": [0, 200], "range": [0, 800]}, "legend": null}}},
        {"transform": [{"filter": "datum.kind === 'lower' || datum.kind === 'upper'"}], "mark": {"type": "line", "color": "black", "strokeWidth": 1.3, "strokeDash": [5, 4], "interpolate": "monotone"}, "encoding": {"detail": {"field": "kind"}}},
        {"transform": [{"filter": "datum.kind === 'est'"}], "mark": {"type": "line", "color": "black", "strokeWidth": 4.5, "strokeCap": "round", "interpolate": "monotone"}, "encoding": {}}
      ]
    },
    {
      "title": {"text": "Mchinji"}, "width": 198, "height": 160,
      "transform": [{"filter": "datum.district === 'Mchinji'"}],
      "encoding": {
        "x": {"field": "year", "type": "quantitative", "title": "Year", "scale": {"domain": [1978.6, 2015.4], "nice": false, "zero": false}, "axis": {"values": [1980,1985,1990,1995,2000,2005,2010,2015], "format": "d", "labelExpr": "datum.value % 10 === 0 ? datum.label : ''"}},
        "y": {"field": "u5mr", "type": "quantitative", "title": "U5MR", "scale": {"domain": [-0.022, 0.571], "nice": false, "zero": false}, "axis": {"values": [0,0.1,0.2,0.3,0.4,0.5], "format": ".1f"}}
      },
      "layer": [
        {"transform": [{"filter": "datum.kind === 'survey'"}], "mark": {"type": "line", "strokeWidth": 2.8, "strokeCap": "round", "strokeJoin": "round"},
         "encoding": {"color": {"field": "series", "type": "nominal", "scale": {"domain": ["Smoothed","DHS 2000","DHS 2004","DHS 2010","DHS 2015","MICS 2006","MICS 2014"], "range": ["#000000","#FF0000","#FF7F00","#FFC400","#22E622","#00E5EE","#1A9CF0"]}, "legend": {"title": null, "symbolType": "M-4.33,0H4.33", "symbolSize": 9, "symbolStrokeWidth": 2.5, "labelOffset": 5.5}}}},
        {"transform": [{"filter": "datum.kind === 'survey'"}], "mark": {"type": "point", "filled": false, "size": 16, "strokeWidth": 4, "opacity": 0.3},
         "encoding": {"stroke": {"field": "series", "type": "nominal", "scale": {"domain": ["Smoothed","DHS 2000","DHS 2004","DHS 2010","DHS 2015","MICS 2006","MICS 2014"], "range": ["#000000","#FF0000","#FF7F00","#FFC400","#22E622","#00E5EE","#1A9CF0"]}, "legend": null}}},
        {"transform": [{"filter": "datum.kind === 'census'"}], "mark": {"type": "circle", "opacity": 0.4},
         "encoding": {"fill": {"field": "series", "type": "nominal", "scale": {"domain": ["Census 1987","Census 1998","Census 2008"], "range": ["#0000FF","#A020F0","#FF1493"]}, "legend": {"title": null, "symbolType": "M-0.467,0A0.467,0.467 0 1,1 0.467,0A0.467,0.467 0 1,1 -0.467,0Z", "symbolSize": 36, "symbolStrokeWidth": 0, "labelOffset": 5.5}},
                      "size": {"field": "weight", "type": "quantitative", "scale": {"domain": [0, 200], "range": [0, 800]}, "legend": null}}},
        {"transform": [{"filter": "datum.kind === 'lower' || datum.kind === 'upper'"}], "mark": {"type": "line", "color": "black", "strokeWidth": 1.3, "strokeDash": [5, 4], "interpolate": "monotone"}, "encoding": {"detail": {"field": "kind"}}},
        {"transform": [{"filter": "datum.kind === 'est'"}], "mark": {"type": "line", "color": "black", "strokeWidth": 4.5, "strokeCap": "round", "interpolate": "monotone"}, "encoding": {}}
      ]
    },
    {
      "title": {"text": "Dedza"}, "width": 198, "height": 160,
      "transform": [{"filter": "datum.district === 'Dedza'"}],
      "encoding": {
        "x": {"field": "year", "type": "quantitative", "title": "Year", "scale": {"domain": [1978.6, 2015.4], "nice": false, "zero": false}, "axis": {"values": [1980,1985,1990,1995,2000,2005,2010,2015], "format": "d", "labelExpr": "datum.value % 10 === 0 ? datum.label : ''"}},
        "y": {"field": "u5mr", "type": "quantitative", "title": "U5MR", "scale": {"domain": [-0.017, 0.428], "nice": false, "zero": false}, "axis": {"values": [0,0.1,0.2,0.3,0.4], "format": ".1f"}}
      },
      "layer": [
        {"transform": [{"filter": "datum.kind === 'survey'"}], "mark": {"type": "line", "strokeWidth": 2.8, "strokeCap": "round", "strokeJoin": "round"},
         "encoding": {"color": {"field": "series", "type": "nominal", "scale": {"domain": ["Smoothed","DHS 2000","DHS 2004","DHS 2010","DHS 2015","MICS 2006","MICS 2014"], "range": ["#000000","#FF0000","#FF7F00","#FFC400","#22E622","#00E5EE","#1A9CF0"]}, "legend": {"title": null, "symbolType": "M-4.33,0H4.33", "symbolSize": 9, "symbolStrokeWidth": 2.5, "labelOffset": 5.5}}}},
        {"transform": [{"filter": "datum.kind === 'survey'"}], "mark": {"type": "point", "filled": false, "size": 16, "strokeWidth": 4, "opacity": 0.3},
         "encoding": {"stroke": {"field": "series", "type": "nominal", "scale": {"domain": ["Smoothed","DHS 2000","DHS 2004","DHS 2010","DHS 2015","MICS 2006","MICS 2014"], "range": ["#000000","#FF0000","#FF7F00","#FFC400","#22E622","#00E5EE","#1A9CF0"]}, "legend": null}}},
        {"transform": [{"filter": "datum.kind === 'census'"}], "mark": {"type": "circle", "opacity": 0.4},
         "encoding": {"fill": {"field": "series", "type": "nominal", "scale": {"domain": ["Census 1987","Census 1998","Census 2008"], "range": ["#0000FF","#A020F0","#FF1493"]}, "legend": {"title": null, "symbolType": "M-0.467,0A0.467,0.467 0 1,1 0.467,0A0.467,0.467 0 1,1 -0.467,0Z", "symbolSize": 36, "symbolStrokeWidth": 0, "labelOffset": 5.5}},
                      "size": {"field": "weight", "type": "quantitative", "scale": {"domain": [0, 200], "range": [0, 800]}, "legend": null}}},
        {"transform": [{"filter": "datum.kind === 'lower' || datum.kind === 'upper'"}], "mark": {"type": "line", "color": "black", "strokeWidth": 1.3, "strokeDash": [5, 4], "interpolate": "monotone"}, "encoding": {"detail": {"field": "kind"}}},
        {"transform": [{"filter": "datum.kind === 'est'"}], "mark": {"type": "line", "color": "black", "strokeWidth": 4.5, "strokeCap": "round", "interpolate": "monotone"}, "encoding": {}}
      ]
    },
    {
      "title": {"text": "Ntcheu"}, "width": 198, "height": 160,
      "transform": [{"filter": "datum.district === 'Ntcheu'"}],
      "encoding": {
        "x": {"field": "year", "type": "quantitative", "title": "Year", "scale": {"domain": [1978.6, 2015.4], "nice": false, "zero": false}, "axis": {"values": [1980,1985,1990,1995,2000,2005,2010,2015], "format": "d", "labelExpr": "datum.value % 10 === 0 ? datum.label : ''"}},
        "y": {"field": "u5mr", "type": "quantitative", "title": "U5MR", "scale": {"domain": [-0.017, 0.398], "nice": false, "zero": false}, "axis": {"values": [0,0.1,0.2,0.3], "format": ".1f"}}
      },
      "layer": [
        {"transform": [{"filter": "datum.kind === 'survey'"}], "mark": {"type": "line", "strokeWidth": 2.8, "strokeCap": "round", "strokeJoin": "round"},
         "encoding": {"color": {"field": "series", "type": "nominal", "scale": {"domain": ["Smoothed","DHS 2000","DHS 2004","DHS 2010","DHS 2015","MICS 2006","MICS 2014"], "range": ["#000000","#FF0000","#FF7F00","#FFC400","#22E622","#00E5EE","#1A9CF0"]}, "legend": {"title": null, "symbolType": "M-4.33,0H4.33", "symbolSize": 9, "symbolStrokeWidth": 2.5, "labelOffset": 5.5}}}},
        {"transform": [{"filter": "datum.kind === 'survey'"}], "mark": {"type": "point", "filled": false, "size": 16, "strokeWidth": 4, "opacity": 0.3},
         "encoding": {"stroke": {"field": "series", "type": "nominal", "scale": {"domain": ["Smoothed","DHS 2000","DHS 2004","DHS 2010","DHS 2015","MICS 2006","MICS 2014"], "range": ["#000000","#FF0000","#FF7F00","#FFC400","#22E622","#00E5EE","#1A9CF0"]}, "legend": null}}},
        {"transform": [{"filter": "datum.kind === 'census'"}], "mark": {"type": "circle", "opacity": 0.4},
         "encoding": {"fill": {"field": "series", "type": "nominal", "scale": {"domain": ["Census 1987","Census 1998","Census 2008"], "range": ["#0000FF","#A020F0","#FF1493"]}, "legend": {"title": null, "symbolType": "M-0.467,0A0.467,0.467 0 1,1 0.467,0A0.467,0.467 0 1,1 -0.467,0Z", "symbolSize": 36, "symbolStrokeWidth": 0, "labelOffset": 5.5}},
                      "size": {"field": "weight", "type": "quantitative", "scale": {"domain": [0, 200], "range": [0, 800]}, "legend": null}}},
        {"transform": [{"filter": "datum.kind === 'lower' || datum.kind === 'upper'"}], "mark": {"type": "line", "color": "black", "strokeWidth": 1.3, "strokeDash": [5, 4], "interpolate": "monotone"}, "encoding": {"detail": {"field": "kind"}}},
        {"transform": [{"filter": "datum.kind === 'est'"}], "mark": {"type": "line", "color": "black", "strokeWidth": 4.5, "strokeCap": "round", "interpolate": "monotone"}, "encoding": {}}
      ]
    },
    {
      "title": {"text": "Mangochi"}, "width": 198, "height": 160,
      "transform": [{"filter": "datum.district === 'Mangochi'"}],
      "encoding": {
        "x": {"field": "year", "type": "quantitative", "title": "Year", "scale": {"domain": [1978.6, 2015.4], "nice": false, "zero": false}, "axis": {"values": [1980,1985,1990,1995,2000,2005,2010,2015], "format": "d", "labelExpr": "datum.value % 10 === 0 ? datum.label : ''"}},
        "y": {"field": "u5mr", "type": "quantitative", "title": "U5MR", "scale": {"domain": [-0.014, 0.361], "nice": false, "zero": false}, "axis": {"values": [0,0.05,0.1,0.15,0.2,0.25,0.3,0.35], "format": ".2f", "labelExpr": "round(datum.value*20) % 2 === 0 ? datum.label : ''"}}
      },
      "layer": [
        {"transform": [{"filter": "datum.kind === 'survey'"}], "mark": {"type": "line", "strokeWidth": 2.8, "strokeCap": "round", "strokeJoin": "round"},
         "encoding": {"color": {"field": "series", "type": "nominal", "scale": {"domain": ["Smoothed","DHS 2000","DHS 2004","DHS 2010","DHS 2015","MICS 2006","MICS 2014"], "range": ["#000000","#FF0000","#FF7F00","#FFC400","#22E622","#00E5EE","#1A9CF0"]}, "legend": {"title": null, "symbolType": "M-4.33,0H4.33", "symbolSize": 9, "symbolStrokeWidth": 2.5, "labelOffset": 5.5}}}},
        {"transform": [{"filter": "datum.kind === 'survey'"}], "mark": {"type": "point", "filled": false, "size": 16, "strokeWidth": 4, "opacity": 0.3},
         "encoding": {"stroke": {"field": "series", "type": "nominal", "scale": {"domain": ["Smoothed","DHS 2000","DHS 2004","DHS 2010","DHS 2015","MICS 2006","MICS 2014"], "range": ["#000000","#FF0000","#FF7F00","#FFC400","#22E622","#00E5EE","#1A9CF0"]}, "legend": null}}},
        {"transform": [{"filter": "datum.kind === 'census'"}], "mark": {"type": "circle", "opacity": 0.4},
         "encoding": {"fill": {"field": "series", "type": "nominal", "scale": {"domain": ["Census 1987","Census 1998","Census 2008"], "range": ["#0000FF","#A020F0","#FF1493"]}, "legend": {"title": null, "symbolType": "M-0.467,0A0.467,0.467 0 1,1 0.467,0A0.467,0.467 0 1,1 -0.467,0Z", "symbolSize": 36, "symbolStrokeWidth": 0, "labelOffset": 5.5}},
                      "size": {"field": "weight", "type": "quantitative", "scale": {"domain": [0, 200], "range": [0, 800]}, "legend": null}}},
        {"transform": [{"filter": "datum.kind === 'lower' || datum.kind === 'upper'"}], "mark": {"type": "line", "color": "black", "strokeWidth": 1.3, "strokeDash": [5, 4], "interpolate": "monotone"}, "encoding": {"detail": {"field": "kind"}}},
        {"transform": [{"filter": "datum.kind === 'est'"}], "mark": {"type": "line", "color": "black", "strokeWidth": 4.5, "strokeCap": "round", "interpolate": "monotone"}, "encoding": {}}
      ]
    },
    {
      "title": {"text": "Machinga", "offset": 17}, "width": 198, "height": 160,
      "transform": [{"filter": "datum.district === 'Machinga'"}],
      "encoding": {
        "x": {"field": "year", "type": "quantitative", "title": "Year", "scale": {"domain": [1978.6, 2015.4], "nice": false, "zero": false}, "axis": {"values": [1980,1985,1990,1995,2000,2005,2010,2015], "format": "d", "labelExpr": "datum.value % 10 === 0 ? datum.label : ''"}},
        "y": {"field": "u5mr", "type": "quantitative", "title": "U5MR", "scale": {"domain": [-0.016, 0.405], "nice": false, "zero": false}, "axis": {"values": [0,0.1,0.2,0.3,0.4], "format": ".1f"}}
      },
      "layer": [
        {"transform": [{"filter": "datum.kind === 'survey'"}], "mark": {"type": "line", "strokeWidth": 2.8, "strokeCap": "round", "strokeJoin": "round"},
         "encoding": {"color": {"field": "series", "type": "nominal", "scale": {"domain": ["Smoothed","DHS 2000","DHS 2004","DHS 2010","DHS 2015","MICS 2006","MICS 2014"], "range": ["#000000","#FF0000","#FF7F00","#FFC400","#22E622","#00E5EE","#1A9CF0"]}, "legend": {"title": null, "symbolType": "M-4.33,0H4.33", "symbolSize": 9, "symbolStrokeWidth": 2.5, "labelOffset": 5.5}}}},
        {"transform": [{"filter": "datum.kind === 'survey'"}], "mark": {"type": "point", "filled": false, "size": 16, "strokeWidth": 4, "opacity": 0.3},
         "encoding": {"stroke": {"field": "series", "type": "nominal", "scale": {"domain": ["Smoothed","DHS 2000","DHS 2004","DHS 2010","DHS 2015","MICS 2006","MICS 2014"], "range": ["#000000","#FF0000","#FF7F00","#FFC400","#22E622","#00E5EE","#1A9CF0"]}, "legend": null}}},
        {"transform": [{"filter": "datum.kind === 'census'"}], "mark": {"type": "circle", "opacity": 0.4},
         "encoding": {"fill": {"field": "series", "type": "nominal", "scale": {"domain": ["Census 1987","Census 1998","Census 2008"], "range": ["#0000FF","#A020F0","#FF1493"]}, "legend": {"title": null, "symbolType": "M-0.467,0A0.467,0.467 0 1,1 0.467,0A0.467,0.467 0 1,1 -0.467,0Z", "symbolSize": 36, "symbolStrokeWidth": 0, "labelOffset": 5.5}},
                      "size": {"field": "weight", "type": "quantitative", "scale": {"domain": [0, 200], "range": [0, 800]}, "legend": null}}},
        {"transform": [{"filter": "datum.kind === 'lower' || datum.kind === 'upper'"}], "mark": {"type": "line", "color": "black", "strokeWidth": 1.3, "strokeDash": [5, 4], "interpolate": "monotone"}, "encoding": {"detail": {"field": "kind"}}},
        {"transform": [{"filter": "datum.kind === 'est'"}], "mark": {"type": "line", "color": "black", "strokeWidth": 4.5, "strokeCap": "round", "interpolate": "monotone"}, "encoding": {}}
      ]
    },
    {
      "title": {"text": "Zomba"}, "width": 198, "height": 160,
      "transform": [{"filter": "datum.district === 'Zomba'"}],
      "encoding": {
        "x": {"field": "year", "type": "quantitative", "title": "Year", "scale": {"domain": [1978.6, 2015.4], "nice": false, "zero": false}, "axis": {"values": [1980,1985,1990,1995,2000,2005,2010,2015], "format": "d", "labelExpr": "datum.value % 10 === 0 ? datum.label : ''"}},
        "y": {"field": "u5mr", "type": "quantitative", "title": "U5MR", "scale": {"domain": [-0.015, 0.358], "nice": false, "zero": false}, "axis": {"values": [0,0.05,0.1,0.15,0.2,0.25,0.3,0.35], "format": ".2f", "labelExpr": "round(datum.value*20) % 2 === 0 ? datum.label : ''"}}
      },
      "layer": [
        {"transform": [{"filter": "datum.kind === 'survey'"}], "mark": {"type": "line", "strokeWidth": 2.8, "strokeCap": "round", "strokeJoin": "round"},
         "encoding": {"color": {"field": "series", "type": "nominal", "scale": {"domain": ["Smoothed","DHS 2000","DHS 2004","DHS 2010","DHS 2015","MICS 2006","MICS 2014"], "range": ["#000000","#FF0000","#FF7F00","#FFC400","#22E622","#00E5EE","#1A9CF0"]}, "legend": {"title": null, "symbolType": "M-4.33,0H4.33", "symbolSize": 9, "symbolStrokeWidth": 2.5, "labelOffset": 5.5}}}},
        {"transform": [{"filter": "datum.kind === 'survey'"}], "mark": {"type": "point", "filled": false, "size": 16, "strokeWidth": 4, "opacity": 0.3},
         "encoding": {"stroke": {"field": "series", "type": "nominal", "scale": {"domain": ["Smoothed","DHS 2000","DHS 2004","DHS 2010","DHS 2015","MICS 2006","MICS 2014"], "range": ["#000000","#FF0000","#FF7F00","#FFC400","#22E622","#00E5EE","#1A9CF0"]}, "legend": null}}},
        {"transform": [{"filter": "datum.kind === 'census'"}], "mark": {"type": "circle", "opacity": 0.4},
         "encoding": {"fill": {"field": "series", "type": "nominal", "scale": {"domain": ["Census 1987","Census 1998","Census 2008"], "range": ["#0000FF","#A020F0","#FF1493"]}, "legend": {"title": null, "symbolType": "M-0.467,0A0.467,0.467 0 1,1 0.467,0A0.467,0.467 0 1,1 -0.467,0Z", "symbolSize": 36, "symbolStrokeWidth": 0, "labelOffset": 5.5}},
                      "size": {"field": "weight", "type": "quantitative", "scale": {"domain": [0, 200], "range": [0, 800]}, "legend": null}}},
        {"transform": [{"filter": "datum.kind === 'lower' || datum.kind === 'upper'"}], "mark": {"type": "line", "color": "black", "strokeWidth": 1.3, "strokeDash": [5, 4], "interpolate": "monotone"}, "encoding": {"detail": {"field": "kind"}}},
        {"transform": [{"filter": "datum.kind === 'est'"}], "mark": {"type": "line", "color": "black", "strokeWidth": 4.5, "strokeCap": "round", "interpolate": "monotone"}, "encoding": {}}
      ]
    }
  ],
  "config": {
    "font": "Liberation Sans",
    "view": {"stroke": "black", "strokeWidth": 1},
    "title": {"font": "Liberation Sans", "fontSize": 13.5, "fontWeight": "bold", "color": "black", "anchor": "middle", "frame": "group", "baseline": "alphabetic", "offset": 23},
    "axis": {"grid": false, "domain": false, "tickColor": "black", "tickSize": 5, "tickWidth": 1, "labelFont": "Liberation Sans", "labelFontSize": 11.5, "labelColor": "black", "titleFont": "Liberation Sans", "titleFontSize": 11.5, "titleFontWeight": "normal", "titleColor": "black", "labelOverlap": false, "labelFlush": false, "labelBound": false},
    "axisX": {"labelPadding": 9, "labelBaseline": "top", "labelAngle": 0, "labelAlign": "center", "titleX": 99, "titleY": 52, "titleBaseline": "alphabetic", "titleAlign": "center"},
    "axisY": {"labelAngle": -90, "labelAlign": "center", "labelBaseline": "alphabetic", "labelPadding": 8, "titleX": -39, "titleY": 80, "titleAngle": -90, "titleBaseline": "alphabetic", "titleAlign": "center"},
    "legend": {"orient": "top-right", "offset": 3.7, "padding": 0, "labelFont": "Liberation Sans", "labelFontSize": 5.5, "labelColor": "black", "symbolOpacity": 1, "rowPadding": 0, "labelLimit": 200, "layout": {"direction": "vertical", "margin": 0}}
  }
}
